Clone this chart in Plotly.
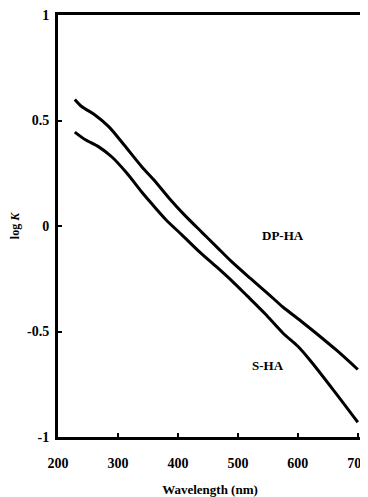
import plotly.graph_objects as go

# DP-HA (upper curve)
dp_x = [228, 240, 260, 285, 310, 340, 360, 385, 410, 440, 465, 490, 520, 550, 575, 605, 630, 665, 700]
dp_y = [0.60, 0.565, 0.53, 0.47, 0.385, 0.28, 0.218, 0.133, 0.055, -0.03, -0.10, -0.17, -0.246, -0.32, -0.384, -0.45, -0.507, -0.59, -0.68]

# S-HA (lower curve)
s_x = [228, 245, 268, 290, 315, 340, 355, 380, 407, 435, 465, 490, 515, 545, 575, 600, 620, 660, 700]
s_y = [0.445, 0.41, 0.375, 0.327, 0.25, 0.16, 0.11, 0.03, -0.043, -0.12, -0.195, -0.26, -0.33, -0.415, -0.507, -0.57, -0.635, -0.78, -0.93]

x_ticks = [200, 300, 400, 500, 600, 700]
y_ticks = [-1, -0.5, 0, 0.5, 1]
y_tick_text = ["-1", "-0.5", "0", "0.5", "1"]

font_family = "Liberation Serif"

fig = go.Figure()
fig.add_trace(go.Scatter(x=dp_x, y=dp_y, mode="lines",
                         line=dict(color="black", width=3, shape="spline", smoothing=0.8),
                         name="DP-HA", showlegend=False, cliponaxis=False))
fig.add_trace(go.Scatter(x=s_x, y=s_y, mode="lines",
                         line=dict(color="black", width=3, shape="spline", smoothing=0.8),
                         name="S-HA", showlegend=False, cliponaxis=False))

fig.add_annotation(x=575, y=-0.043, text="<b>DP-HA</b>", showarrow=False,
                   font=dict(family=font_family, size=13, color="black"))
fig.add_annotation(x=550, y=-0.663, text="<b>S-HA</b>", showarrow=False,
                   font=dict(family=font_family, size=13, color="black"))

# the page body has an 8px default margin; size the figure to fit the window
fig.update_layout(
    width=360, height=489,
    margin=dict(l=50, r=6, t=7, b=60),
    paper_bgcolor="white", plot_bgcolor="white",
    font=dict(family=font_family, color="black"),
    xaxis=dict(
        range=[200, 707], tickmode="array", tickvals=x_ticks,
        ticktext=[f"<b>{v}</b>" for v in x_ticks],
        showgrid=False, zeroline=False, automargin=False,
        showline=True, linecolor="black", linewidth=3, mirror=True,
        ticks="inside", ticklen=4, tickwidth=2, tickcolor="black",
        tickfont=dict(family=font_family, size=14, color="black"),
        ticklabelstandoff=11, ticklabeloverflow="allow",
        title=dict(text="<b>Wavelength (nm)</b>", font=dict(family=font_family, size=13, color="black"),
                   standoff=27),
    ),
    yaxis=dict(
        range=[-1, 1], tickmode="array", tickvals=y_ticks,
        ticktext=[f"<b>{t}</b>" for t in y_tick_text],
        showgrid=False, zeroline=False, automargin=False,
        showline=True, linecolor="black", linewidth=3, mirror=True,
        ticks="inside", ticklen=4, tickwidth=2, tickcolor="black",
        tickfont=dict(family=font_family, size=14, color="black"),
        ticklabelstandoff=3, ticklabeloverflow="allow",
        title=dict(text="<b>log <i>K</i></b>", font=dict(family=font_family, size=12, color="black"),
                   standoff=8),
    ),
)

fig.write_html("out.html")
